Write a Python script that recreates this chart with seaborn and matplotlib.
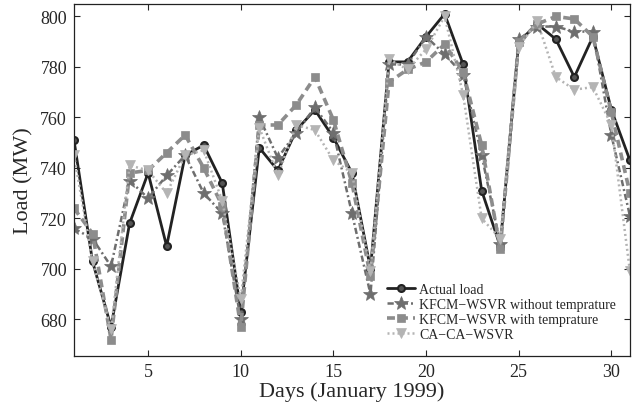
import matplotlib
matplotlib.use('Agg')
import matplotlib.pyplot as plt
from matplotlib.lines import Line2D
import seaborn as sns
import pandas as pd

days = list(range(1, 32))
actual = [751, 703, 677, 718, 738, 709, 745, 749, 734, 683, 748, 739, 755, 763, 752, 738,
          700, 782, 782, 792, 801, 781, 731, 709, 790, 797, 791, 776, 792, 763, 743]
kfcm_no_temp = [716, 712, 701, 735, 728, 737, 745, 730, 722, 680, 760, 744, 754, 764, 754, 722,
                690, 781, 781, 792, 785, 777, 745, 710, 791, 796, 796, 794, 794, 753, 721]
kfcm_temp = [724, 714, 672, 738, 739, 746, 753, 740, 725, 677, 757, 757, 765, 776, 759, 734,
             697, 774, 779, 782, 789, 778, 749, 708, 790, 797, 800, 799, 792, 762, 730]
ca_wsvr = [745, 703, 676, 741, 739, 730, 745, 747, 727, 688, 756, 737, 757, 755, 743, 738,
           699, 783, 779, 787, 800, 769, 720, 712, 788, 798, 776, 771, 772, 757, 699]

sns.set_style('ticks')
plt.rcParams['font.family'] = ['Liberation Serif', 'DejaVu Serif']

fig = plt.figure(figsize=(6.35, 4.10), dpi=100)
ax = fig.add_axes([0.1165, 0.130, 0.8755, 0.857])

# (label, values, colour, marker, dash pattern, linewidth, markersize)
series = [
    ('Actual load', actual, '#222222', 'o', (None, None), 2.0, 5),
    ('KFCM\u2212WSVR without temprature', kfcm_no_temp, '#6e6e6e', '*', (0, (2.5, 1.2, 0.8, 1.2)), 1.8, 10),
    ('KFCM\u2212WSVR with temprature', kfcm_temp, '#8c8c8c', 's', (0, (2.2, 1.4)), 2.6, 5.5),
    ('CA\u2212CA\u2212WSVR', ca_wsvr, '#b4b4b4', 'v', (0, (0.8, 1.2)), 1.8, 7.5),
]

handles = []
for label, vals, col, mk, dash, lw, ms in series:
    df = pd.DataFrame({'day': days, 'load': vals})
    ls = '-' if dash[0] is None else dash
    face = col if mk != 'o' else '#555555'
    mew = 1.5 if mk == 'o' else 0.5
    sns.lineplot(data=df, x='day', y='load', ax=ax, color=col, marker=mk,
                 linewidth=lw, markersize=ms, markeredgecolor=col,
                 markerfacecolor=face, markeredgewidth=mew, legend=False)
    ax.get_lines()[-1].set_linestyle(ls)
    handles.append(Line2D([], [], color=col, linestyle=ls, linewidth=lw, marker=mk,
                          markersize=ms, markeredgecolor=col, markerfacecolor=face,
                          markeredgewidth=mew))

ax.set_xlim(1, 31)
ax.set_ylim(665.6, 804.8)
ax.set_xticks([5, 10, 15, 20, 25, 30])
ax.set_yticks([680, 700, 720, 740, 760, 780, 800])
ax.tick_params(direction='in', top=True, right=True, labelsize=13, length=4, width=0.8, pad=5)
for s in ax.spines.values():
    s.set_linewidth(0.9)
    s.set_color('#222222')

ax.set_xlabel('Days (January 1999)', fontsize=16, labelpad=1)
ax.set_ylabel('Load (MW)', fontsize=16, labelpad=5)

ax.legend(handles, [s[0] for s in series], loc='lower right', bbox_to_anchor=(0.985, 0.025),
          frameon=False, fontsize=10, handlelength=2.0, labelspacing=0.15,
          handletextpad=0.3, borderaxespad=0)

fig.savefig('out.png', dpi=100)
